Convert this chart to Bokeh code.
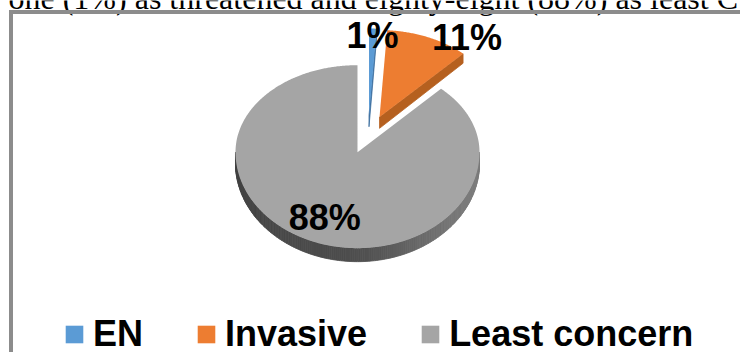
import numpy as np
from bokeh.plotting import figure
from bokeh.models import Range1d, Legend, LegendItem
from bokeh.core.properties import value
from bokeh.embed import file_html
from bokeh.resources import INLINE

# ---------------- data ----------------
categories = ["EN", "Invasive", "Least concern"]
percent = [1, 11, 88]
pct_labels = ["1%", "11%", "88%"]
caption = "one (1%) as threatened and eighty-eight (88%) as least C"

# ---------------- style / layout ----------------
top_colors = ["#5b9bd5", "#ed7d31", "#a5a5a5"]
side_rgb = [(60, 110, 160), (181, 96, 31), (100, 100, 100)]
label_frac = [0.92, 1.0, 0.73]
label_align = ["center", "left", "center"]
label_dx = [0, 4, 0]

W, H = 740, 352
CX, CY = 367.6, 134.0          # un-exploded pie centre (screen px)
RX, RY_TOP, RY_BOT = 122.0, 87.0, 96.0
EXPL_X, EXPL_Y = 28.8, 19.0     # explosion offset
D_TOP, D_BOT = 9.0, 13.5        # 3D thickness (back / front)

p = figure(width=W, height=H, x_range=Range1d(0, W), y_range=Range1d(H, 0),
           output_backend="svg", toolbar_location=None, min_border=0,
           x_axis_location=None, y_axis_location=None)
p.grid.visible = False
p.outline_line_color = None
p.background_fill_color = "white"
p.border_fill_color = "white"


def ry(th):
    return np.where(np.cos(th) >= 0, RY_TOP, RY_BOT)


def rim(ax, ay, th):
    return ax + RX * np.sin(th), ay - ry(th) * np.cos(th)


def depth(th):
    return (D_TOP + D_BOT) / 2 - (D_BOT - D_TOP) / 2 * np.cos(th)


def hexc(rgb, f):
    return "#%02x%02x%02x" % tuple(int(max(0, min(255, c * f))) for c in rgb)


frac = np.array(percent, float) / sum(percent)
ends = np.cumsum(frac) * 2 * np.pi
starts = ends - frac * 2 * np.pi
mids = (starts + ends) / 2
apex_x = CX + EXPL_X * np.sin(mids)
apex_y = CY - EXPL_Y * np.cos(mids)

# caption text of the surrounding document (cut at the top)
p.text(x=[8], y=[7], text=[caption], y_offset=-10,
       text_font=value("Liberation Serif"),
       text_font_size="32px", text_baseline="alphabetic", text_color="black")

top_renderers = {}
for i in [2, 1, 0]:
    ax, ay = apex_x[i], apex_y[i]
    sx, sy, sc = [], [], []
    # outer rim (front half only)
    lo, hi = max(starts[i], np.pi / 2), min(ends[i], 3 * np.pi / 2)
    if hi > lo:
        t = np.linspace(lo, hi, int(np.degrees(hi - lo)) + 2)
        px, py = rim(ax, ay, t)
        d = depth(t)
        for k in range(len(t) - 1):
            tm = (t[k] + t[k + 1]) / 2
            f = 0.95 + 0.3 * np.sin(tm) - 0.15 * np.sin(tm - np.pi / 2) ** 8
            sx.append([px[k], px[k + 1], px[k + 1], px[k]])
            sy.append([py[k], py[k + 1], py[k + 1] + d[k + 1], py[k] + d[k]])
            sc.append(hexc(side_rgb[i], f))
    # cut faces (visible when they face the viewer)
    dc = (D_TOP + D_BOT) / 2
    for ang, vis in ((ends[i], np.sin(ends[i]) > 1e-6),
                     (starts[i], np.sin(starts[i]) < -1e-6)):
        if vis:
            exx, eyy = rim(ax, ay, np.array([ang]))
            de = depth(np.array([ang]))[0]
            sx.append([ax, exx[0], exx[0], ax])
            sy.append([ay, eyy[0], eyy[0] + de, ay + dc])
            sc.append(hexc(side_rgb[i], 1.0))
    if sx:
        p.patches(xs=sx, ys=sy, fill_color=sc, line_color=sc, line_width=0.8)
    # top face
    n = max(4, int(np.degrees(ends[i] - starts[i]) * 2))
    th = np.linspace(starts[i], ends[i], n)
    ex, ey = rim(ax, ay, th)
    r = p.patch(x=[ax] + list(ex), y=[ay] + list(ey), fill_color=top_colors[i],
                line_color=None)
    top_renderers[i] = r

# percentage labels
lx, ly = [], []
for i in range(len(percent)):
    m = mids[i]
    rr = RY_TOP if np.cos(m) >= 0 else RY_BOT
    lx.append(apex_x[i] + label_frac[i] * RX * np.sin(m) + label_dx[i])
    ly.append(apex_y[i] - label_frac[i] * rr * np.cos(m))
for i in range(len(percent)):
    p.text(x=[lx[i]], y=[ly[i]], text=[pct_labels[i]], y_offset=0,
           text_font=value("Liberation Sans"), text_font_style="bold",
           text_font_size="36px", text_align=label_align[i],
           text_baseline="alphabetic", text_color="black")

# chart frame (left and top edges visible)
p.line(x=[10.5, 10.5, W + 10], y=[H + 10, 11.5, 11.5], line_color="#8c8c8c",
       line_width=4, line_join="miter")

legend = Legend(items=[LegendItem(label=categories[i], renderers=[top_renderers[i]])
                       for i in range(len(categories))],
                orientation="horizontal", location=(63, -3),
                glyph_width=22, glyph_height=22, label_standoff=8, spacing=52,
                label_text_font="Liberation Sans", label_text_font_style="bold",
                label_text_font_size="36px", label_text_color="black",
                padding=0, margin=0,
                border_line_color=None, background_fill_alpha=0)
p.add_layout(legend)

open("out.html", "w").write(file_html(p, INLINE))
